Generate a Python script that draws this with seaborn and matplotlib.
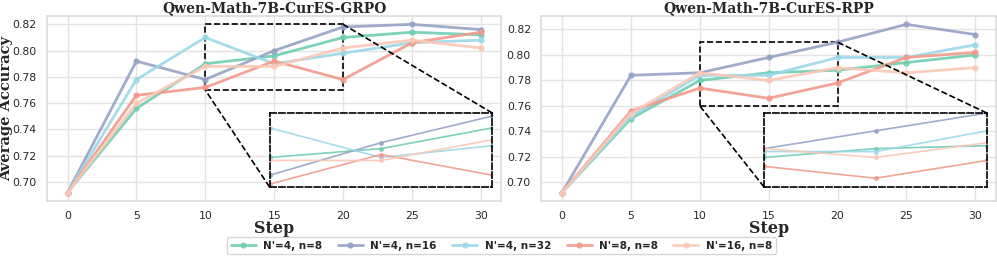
import matplotlib
matplotlib.use("Agg")
import matplotlib.pyplot as plt  # noqa: E402
import seaborn as sns  # noqa: E402
import pandas as pd  # noqa: E402
from mpl_toolkits.axes_grid1.inset_locator import mark_inset  # noqa: E402

# Datos
steps = [0, 5, 10, 15, 20, 25, 30]
series = ["N'=4, n=8", "N'=4, n=16", "N'=4, n=32", "N'=8, n=8", "N'=16, n=8"]
colors = ["#6fcdb2", "#97a2c6", "#9bd8e8", "#f29a8b", "#fbc8b6"]

grpo_n4_8 = [0.692, 0.756, 0.790, 0.796, 0.810, 0.814, 0.812]
grpo_n4_16 = [0.692, 0.792, 0.778, 0.800, 0.818, 0.820, 0.816]
grpo_n4_32 = [0.692, 0.778, 0.810, 0.790, 0.798, 0.806, 0.808]
grpo_n8_8 = [0.692, 0.766, 0.772, 0.792, 0.778, 0.806, 0.814]
grpo_n16_8 = [0.692, 0.760, 0.788, 0.788, 0.802, 0.808, 0.802]

rpp_n4_8 = [0.692, 0.750, 0.780, 0.786, 0.788, 0.794, 0.800]
rpp_n4_16 = [0.692, 0.784, 0.786, 0.798, 0.810, 0.824, 0.816]
rpp_n4_32 = [0.692, 0.752, 0.784, 0.784, 0.798, 0.798, 0.808]
rpp_n8_8 = [0.692, 0.756, 0.774, 0.766, 0.778, 0.798, 0.802]
rpp_n16_8 = [0.692, 0.754, 0.786, 0.780, 0.790, 0.786, 0.790]

panels = [
    ("Qwen-Math-7B-CurES-GRPO",
     [grpo_n4_8, grpo_n4_16, grpo_n4_32, grpo_n8_8, grpo_n16_8],
     (10, 20), (0.770, 0.820)),
    ("Qwen-Math-7B-CurES-RPP",
     [rpp_n4_8, rpp_n4_16, rpp_n4_32, rpp_n8_8, rpp_n16_8],
     (10, 20), (0.760, 0.810)),
]


def to_long(vals):
    rows = []
    for name, ys in zip(series, vals):
        for s, y in zip(steps, ys):
            rows.append({"Step": s, "acc": y, "cfg": name})
    return pd.DataFrame(rows)


sns.set_theme(style="whitegrid")
plt.rcParams["font.family"] = ["DejaVu Sans"]
palette = dict(zip(series, colors))

fig = plt.figure(figsize=(9.97, 2.57), dpi=100)
ax_l = fig.add_axes([0.047, 0.218, 0.456, 0.72])
ax_r = fig.add_axes([0.543, 0.218, 0.456, 0.72])

serif = ["DejaVu Serif"]
for ax, (title, vals, xz, yz) in zip([ax_l, ax_r], panels):
    df = to_long(vals)
    sns.lineplot(data=df, x="Step", y="acc", hue="cfg", palette=palette,
                 marker="o", markersize=4.5, markeredgewidth=0, linewidth=2,
                 alpha=0.9, ax=ax, legend=(ax is ax_l))
    ax.set_xlim(-1.5, 31.5)
    ax.set_xticks(steps)
    ax.set_yticks([0.70, 0.72, 0.74, 0.76, 0.78, 0.80, 0.82])
    ax.tick_params(labelsize=7.8, pad=1.5)
    ax.set_title(title, fontsize=10, fontweight="bold", family=serif, pad=3)
    ax.set_xlabel("Step", fontsize=11.5, fontweight="bold", family=serif,
                  labelpad=-1)
    ax.set_ylabel("")
    for sp in ax.spines.values():
        sp.set_color("#dddddd")
    ax.grid(color="#e3e3e3", linewidth=1)

    # Zoom de la región [10,20]
    axins = ax.inset_axes([0.49, 0.075, 0.49, 0.40])
    sns.lineplot(data=df, x="Step", y="acc", hue="cfg", palette=palette,
                 marker="o", markersize=3.5, markeredgewidth=0, linewidth=1.2,
                 alpha=0.9, ax=axins, legend=False)
    axins.set_xlim(*xz)
    axins.set_ylim(*yz)
    axins.set_xticks([])
    axins.set_yticks([])
    axins.set_xlabel("")
    axins.set_ylabel("")
    axins.grid(False)
    axins.set_facecolor("white")
    for sp in axins.spines.values():
        sp.set_color("black")
        sp.set_linestyle("--")
        sp.set_linewidth(1.2)
    marks = mark_inset(ax, axins, loc1=1, loc2=3, fc="none",
                       ec="black", ls="--", lw=1.2)
    for m in marks:
        m.set_linestyle("--")

ax_l.set_ylabel("Average Accuracy", fontsize=10.5, fontweight="bold",
                family=serif)
ax_l.yaxis.set_label_coords(-0.075, 0.5)

handles, labels = ax_l.get_legend_handles_labels()
ax_l.get_legend().remove()
leg = fig.legend(handles, labels, loc="lower center", ncol=5,
                 bbox_to_anchor=(0.503, -0.01), frameon=True,
                 prop={"weight": "bold", "size": 7.5},
                 handlelength=2.4, columnspacing=1.5, borderpad=0.35,
                 handletextpad=0.7)
leg.get_frame().set_edgecolor("#cccccc")

fig.savefig("out.png", dpi=100)
